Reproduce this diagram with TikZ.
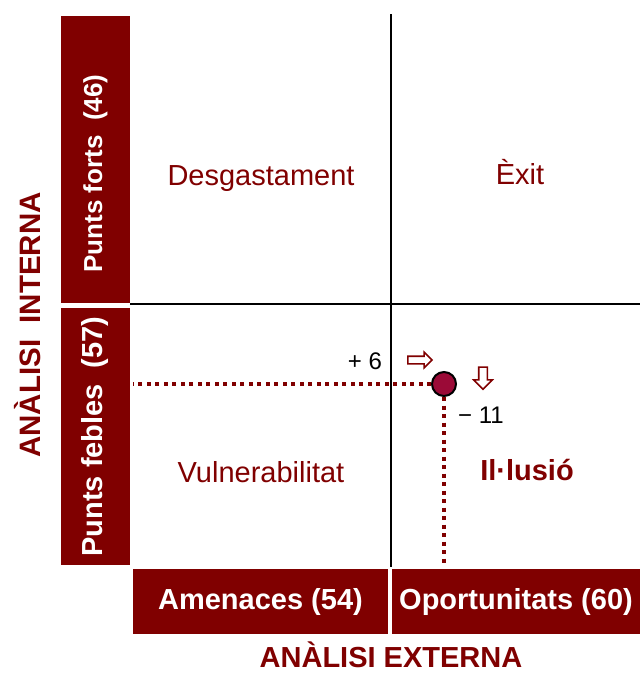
\documentclass[tikz,border=0pt]{standalone}
\usepackage{fontspec}
\setmainfont{Liberation Sans}
\usetikzlibrary{shapes.arrows}
\definecolor{granat}{RGB}{128,0,0}
\definecolor{punt}{RGB}{155,10,55}

\begin{document}
\begin{tikzpicture}[x = 1pt, y = -1pt]
\tikzstyle{BarStyle}=[fill = granat, text = white, inner sep = 0pt,
                      font = \fontsize{29}{30}\selectfont\bfseries]
\tikzstyle{QuadStyle}=[text = granat, font = \fontsize{29}{30}\selectfont]
\tikzstyle{EixStyle}=[text = granat, inner sep = 0pt, font = \fontsize{29}{30}\selectfont\bfseries]
\tikzstyle{PuntStyle}=[draw = granat, line width = 4pt,
                       dash pattern = on 4pt off 4.5pt]
\tikzstyle{FletxaStyle}=[single arrow, draw = granat, fill = white,
                         line width = 1.6pt, inner sep = 3pt]
\useasboundingbox (0,0) rectangle (640,675);
% barres
\node[BarStyle, rotate = 90, minimum width = 287pt, minimum height = 69pt,
      font = \fontsize{26}{30}\selectfont\bfseries] (forts) at (95.5,159.5) {Punts forts~ (46)\kern28pt};
\node[BarStyle, rotate = 90, minimum width = 257pt, minimum height = 69pt] (febles) at (95.5,436.5) {Punts febles~ (57)};
\node[BarStyle, minimum width = 255pt, minimum height = 65pt] (amenaces) at (260.5,601.5) {Amenaces (54)};
\node[BarStyle, minimum width = 248pt, minimum height = 65pt] (oportunitats) at (516,601.5) {Oportunitats (60)};
% eixos
\node[EixStyle, rotate = 90, font = \fontsize{29.5}{30}\selectfont\bfseries] (interna) at (28,325) {ANÀLISI~ INTERNA};
\node[EixStyle] (externa) at (391,655) {ANÀLISI EXTERNA};
\coordinate (dalt) at (391,14);
\coordinate (baix) at (391,567);
\coordinate (esq) at (130,304);
\coordinate (dreta) at (640,304);
\draw[line width = 2pt] (dalt) -- (baix);
\draw[line width = 2pt] (esq) -- (dreta);
% quadrants
\node[QuadStyle] (desgast) at (261,179) {Desgastament};
\node[QuadStyle] (exit) at (520,172) {Èxit};
\node[QuadStyle] (vulner) at (261,472) {Vulnerabilitat};
\node[QuadStyle, font = \fontsize{29}{30}\selectfont\bfseries] (illusio) at (527,470) {Il·lusió};
% posicio
\node[circle, fill = punt, draw = black, line width = 2pt, minimum size = 24pt, inner sep = 0pt] (pos) at (444,384) {};
\coordinate (pe) at (133,384);
\coordinate (pb) at (444,566);
\draw[PuntStyle] (pos.west) -- (pe);
\draw[PuntStyle] (pos.south) -- (pb);
\node[font = \fontsize{24}{26}\selectfont] (mes) at (365,361) {+ 6};
\node[font = \fontsize{24}{26}\selectfont] (menys) at (481,415) {− 11};
\node[FletxaStyle, minimum height = 24pt, single arrow head extend = 4pt] (fx) at (418,360) {};
\node[FletxaStyle, rotate = -90, minimum height = 22pt, inner sep = 3.5pt, single arrow head extend = 5pt] (fy) at (483,376) {};
\end{tikzpicture}
\end{document}
